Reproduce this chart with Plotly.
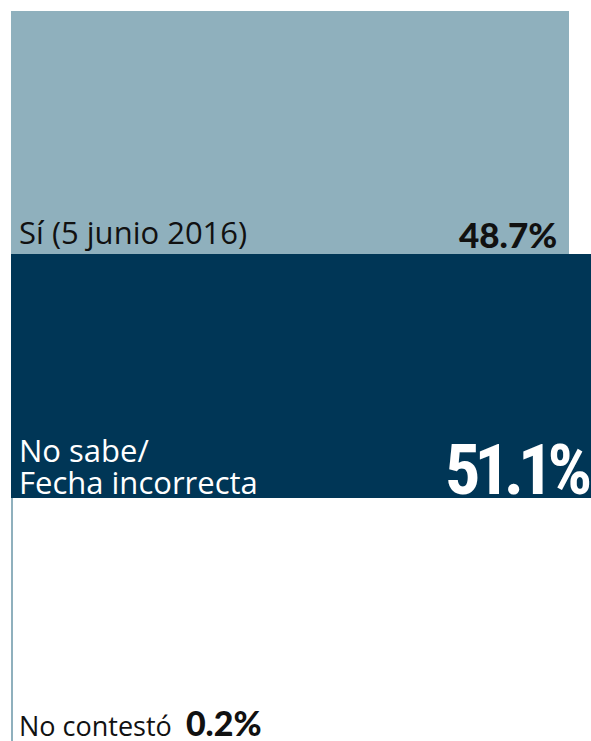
import plotly.graph_objects as go

categories = ["Sí (5 junio 2016)", "No sabe/<br>Fecha incorrecta", "No contestó"]
values = [48.7, 51.1, 0.2]
value_labels = ["48.7%", "51.1%", "0.2%"]

bar_colors = ["#8fb0bd", "#003656", "#8fb0bd"]
label_colors = ["#111111", "#ffffff", "#111111"]

X_MAX = 50.6
LINE_GAP = 32  # px between label lines

fig = go.Figure(
    go.Bar(
        x=values,
        y=categories,
        orientation="h",
        width=1,
        marker=dict(color=bar_colors, line=dict(width=0)),
        hoverinfo="skip",
    )
)

LABEL_FONT = "Open Sans"
label_sizes = [31, 31, 27]
label_yshift = [-1, -7, -5]
annotations = []
for i, (cat, col) in enumerate(zip(categories, label_colors)):
    lines = cat.split("<br>")
    for k, line in enumerate(reversed(lines)):
        txt = line
        if i == 2:
            txt = (line + ' &nbsp;<span style="font-family:Lato;font-weight:900;font-size:34px">'
                   + value_labels[i] + "</span>")
        annotations.append(dict(
            x=0, y=i + 0.5, xref="x", yref="y",
            text=txt, showarrow=False,
            xanchor="left", yanchor="bottom",
            xshift=6, yshift=label_yshift[i] + k * LINE_GAP,
            align="left",
            font=dict(family=LABEL_FONT, size=label_sizes[i], color=col),
        ))

# value labels at bar ends
annotations.append(dict(
    x=min(values[0], X_MAX), y=0.5, xref="x", yref="y",
    text=value_labels[0], showarrow=False,
    xanchor="right", yanchor="bottom", xshift=-10, yshift=-3,
    font=dict(family="Lato", size=35, color="#111111", weight=900),
))
annotations.append(dict(
    x=min(values[1], X_MAX), y=1.5, xref="x", yref="y",
    text='<span style="letter-spacing:-6px">' + value_labels[1] + "</span>",
    showarrow=False,
    xanchor="right", yanchor="bottom", xshift=0, yshift=-15,
    font=dict(family="Roboto Condensed, DejaVu Sans Condensed, Liberation Sans Narrow, sans-serif",
              size=70, color="#ffffff", weight=700),
))

fig.update_layout(
    width=591, height=741,
    margin=dict(l=11, r=0, t=11, b=0, pad=0),
    paper_bgcolor="white", plot_bgcolor="white",
    showlegend=False,
    bargap=0,
    xaxis=dict(range=[0, X_MAX], visible=False, fixedrange=True),
    yaxis=dict(type="category", categoryarray=categories, range=[2.5, -0.5],
               visible=False, fixedrange=True),
    annotations=annotations,
)

fig.write_html("out.html", config=dict(displayModeBar=False))
with open("out.html", encoding="utf-8") as f:
    html = f.read()
html = html.replace("<head>", "<head><style>html,body{margin:0;padding:0;overflow:hidden;}</style>", 1)
with open("out.html", "w", encoding="utf-8") as f:
    f.write(html)
